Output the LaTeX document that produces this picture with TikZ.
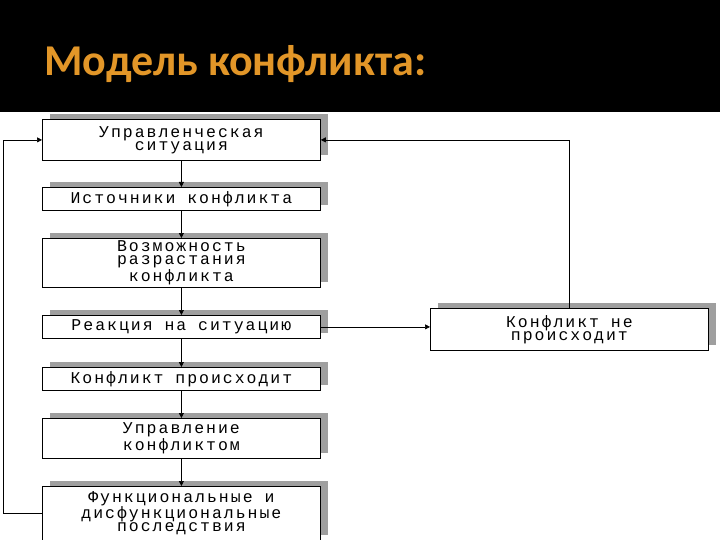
\documentclass[tikz,border=0pt]{standalone}
\usepackage{fontspec}
\setmainfont{Carlito}
\newfontfamily\boxfont[LetterSpace=12]{Liberation Mono}
\usetikzlibrary{arrows.meta}
\definecolor{ttl}{RGB}{226,150,40}
\tikzset{
 bx/.style={draw=black, fill=white, line width=0.8pt, minimum width=278pt, anchor=north west, align=center, inner sep=0pt, font=\boxfont\fontsize{16.5}{13}\selectfont},
 sh/.style={fill=gray!75, draw=none},
 ar/.style={-{Triangle[length=5pt,width=5pt]}, line width=0.6pt}
}
\begin{document}
\begin{tikzpicture}[x=1pt,y=-1pt]
\useasboundingbox (0,0) rectangle (720,540);
\fill[black] (0,0) rectangle (720,112);
\node[anchor=west, text=ttl, font=\bfseries\fontsize{44}{48}\selectfont] (title) at (41,64) {Модель конфликта:};
% shadows
\foreach \y/\h in {119/41,187/23,238/49,315/23,367/23,418/40,486/54}{
 \fill[sh] (50,\y-5) rectangle (328,\y+\h-5);
}
\fill[sh] (438,303) rectangle (716,345);
\node[bx, minimum height=41pt] (b1) at (42,119) {Управленческая\\ситуация};
\node[bx, minimum height=23pt] (b2) at (42,187) {Источники конфликта};
\node[bx, minimum height=49pt] (b3) at (42,238) {Возможность\\разрастания\\конфликта};
\node[bx, minimum height=23pt] (b4) at (42,315) {Реакция на ситуацию};
\node[bx, minimum height=23pt] (b5) at (42,367) {Конфликт происходит};
\node[bx, minimum height=40pt] (b6) at (42,418) {Управление\\конфликтом};
\node[bx, minimum height=54pt] (b7) at (42,486) {Функциональные и\\дисфункциональные\\последствия};
\node[bx, minimum height=42pt] (r) at (430,308) {Конфликт не\\происходит};
\draw[ar] (b1.south) -- (b2.north);
\draw[ar] (b2.south) -- (b3.north);
\draw[ar] (b3.south) -- (b4.north);
\draw[ar] (b4.south) -- (b5.north);
\draw[ar] (b5.south) -- (b6.north);
\draw[ar] (b6.south) -- (b7.north);
\draw[ar] (b4.east) -- (b4.east -| r.west);
\draw[ar] (r.north) |- (b1.east);
\draw[ar] (b7.west) -- ++(-39,0) |- (b1.west);
\end{tikzpicture}
\end{document}
